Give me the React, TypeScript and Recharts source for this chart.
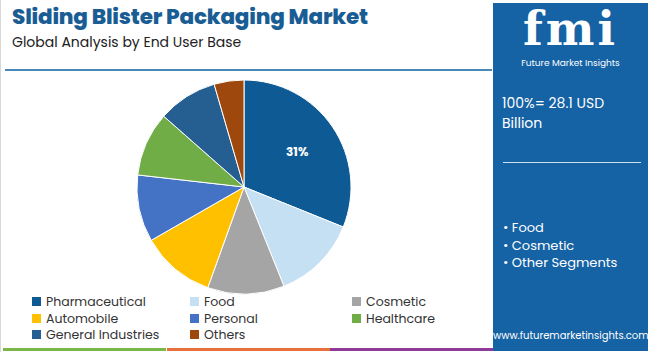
import React from "react";
import { PieChart, Pie, Cell } from "recharts";

// End user shares (%), clockwise from 12 o'clock.
const SEGMENTS = [
  "Pharmaceutical",
  "Food",
  "Cosmetic",
  "Automobile",
  "Personal",
  "Healthcare",
  "General Industries",
  "Others",
];
const SHARES = [31.1, 12.8, 11.6, 11.2, 10.1, 9.7, 9.0, 4.5];
const COLORS = ["#0e5a94", "#c5e0f2", "#a5a5a5", "#ffc000", "#4472c4", "#70ad47", "#255e91", "#9e480e"];
const HIGHLIGHTS = ["Food", "Cosmetic", "Other Segments"];

const FONT = "Poppins, 'Open Sans', 'Noto Sans', sans-serif";
const BLUE = "#1562a4";

const data = SEGMENTS.map((name, i) => ({ name, value: SHARES[i] }));

function PieLabel(props: any) {
  const { cx, cy, midAngle, outerRadius, index, value } = props;
  if (index !== 0) return null;
  const RAD = Math.PI / 180;
  const r = outerRadius * 0.6;
  const x = cx + r * Math.cos(-midAngle * RAD);
  const y = cy + r * Math.sin(-midAngle * RAD);
  return (
    <text x={x} y={y} fill="#ffffff" fontSize={12} fontWeight={700} textAnchor="middle" dominantBaseline="central" fontFamily={FONT}>
      {Math.round(value)}%
    </text>
  );
}

// legend in three columns, same order as the slices
function LegendGrid() {
  const cols = [0, 158, 320];
  return (
    <div style={{ position: "absolute", left: 32, top: 294, width: 460, height: 52, fontSize: 12.5, color: "#333" }}>
      {SEGMENTS.map((name, i) => (
        <div
          key={name}
          style={{
            position: "absolute",
            left: cols[i % 3],
            top: Math.floor(i / 3) * 16.5,
            height: 15,
            lineHeight: "15px",
            display: "flex",
            alignItems: "center",
            gap: 5,
            whiteSpace: "nowrap",
          }}
        >
          <span style={{ display: "inline-block", width: 9, height: 9, background: COLORS[i] }} />
          {name}
        </div>
      ))}
    </div>
  );
}

export default function App() {
  return (
    <div style={{ position: "fixed", left: 0, top: 0, width: 650, height: 352, background: "#fff", fontFamily: FONT, overflow: "hidden" }}>
      <div style={{ position: "absolute", left: 0, top: 0, width: 1, height: 352, background: "#d8d8d8" }} />
      <div style={{ position: "absolute", left: 12, top: 3, fontSize: 21.5, lineHeight: "28px", fontWeight: 800, color: "#1a5d94", letterSpacing: -0.2 }}>
        Sliding Blister Packaging Market
      </div>
      <div style={{ position: "absolute", left: 12, top: 34, fontSize: 14, lineHeight: "16px", color: "#222" }}>Global Analysis by End User Base</div>
      <div style={{ position: "absolute", left: 5, top: 69, width: 487, height: 2, background: "#4a88b8" }} />

      <div style={{ position: "absolute", left: 0, top: 0 }}>
        <PieChart width={492} height={352} margin={{ top: 0, right: 0, bottom: 0, left: 0 }}>
          <Pie
            data={data}
            dataKey="value"
            nameKey="name"
            cx={244}
            cy={187}
            outerRadius={107}
            startAngle={90}
            endAngle={-270}
            stroke="#ffffff"
            strokeWidth={1}
            label={PieLabel}
            labelLine={false}
            isAnimationActive={false}
          >
            {data.map((d, i) => (
              <Cell key={d.name} fill={COLORS[i]} />
            ))}
          </Pie>
        </PieChart>
      </div>
      <LegendGrid />

      <div style={{ position: "absolute", left: 3, top: 348, width: 163, height: 3, background: "#7ab648" }} />
      <div style={{ position: "absolute", left: 167, top: 348, width: 163, height: 3, background: "#e8703a" }} />
      <div style={{ position: "absolute", left: 330, top: 348, width: 163, height: 3, background: "#8e3a96" }} />

      <div style={{ position: "absolute", left: 493, top: 3, width: 155, height: 348, background: BLUE, color: "#fff" }}>
        <div style={{ position: "absolute", left: 0, width: 155, top: 4, height: 44, textAlign: "center", fontFamily: "'DejaVu Serif', serif", fontWeight: 900, fontSize: 46, lineHeight: "44px", letterSpacing: 3 }}>
          fmi
        </div>
        <div style={{ position: "absolute", left: 0, width: 155, top: 55, textAlign: "center", fontSize: 9, lineHeight: "11px" }}>Future Market Insights</div>
        <div style={{ position: "absolute", left: 9, top: 90, fontSize: 14, lineHeight: "20px" }}>
          100%= 28.1 USD
          <br />
          Billion
        </div>
        <div style={{ position: "absolute", left: 10, top: 159, width: 138, height: 1, background: "#cfe0ef" }} />
        <div style={{ position: "absolute", left: 10, top: 216, fontSize: 13, lineHeight: "17.5px" }}>
          {HIGHLIGHTS.map((h) => (
            <div key={h}>• {h}</div>
          ))}
        </div>
        <div style={{ position: "absolute", left: 0, width: 155, top: 327, textAlign: "center", fontSize: 10, lineHeight: "12px" }}>www.futuremarketinsights.com</div>
      </div>
    </div>
  );
}
